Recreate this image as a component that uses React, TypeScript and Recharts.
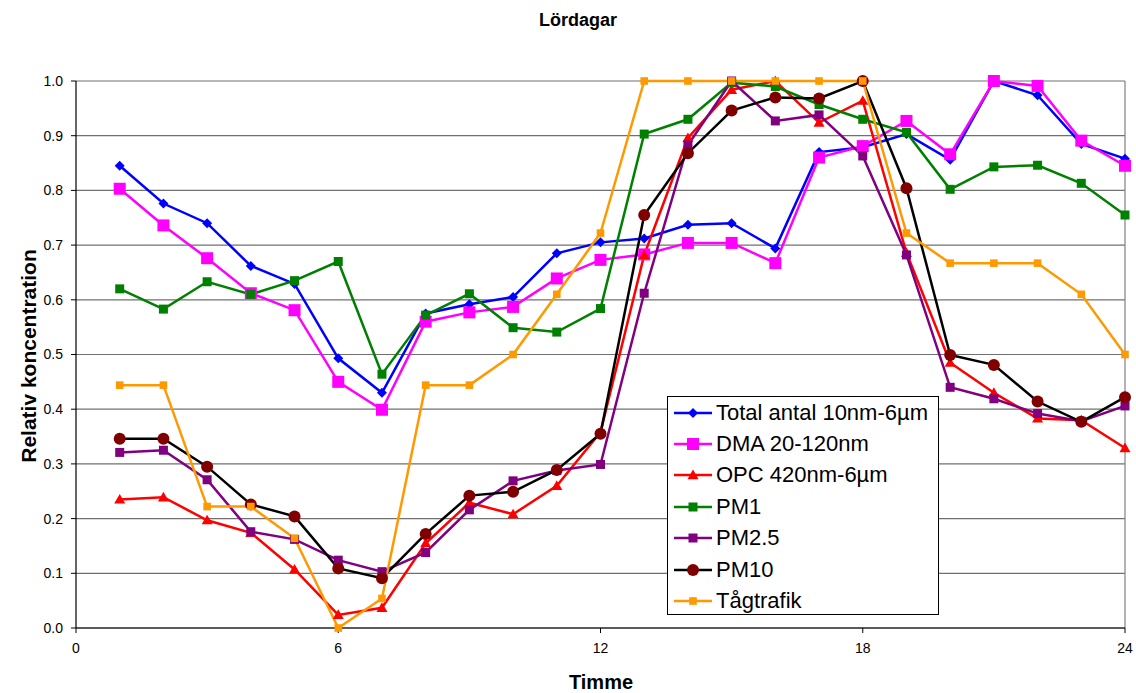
import React from "react";
import { LineChart, Line, XAxis, YAxis, CartesianGrid, ReferenceLine } from "recharts";

// Hours of the day (Saturday profile)
const hours = [1, 2, 3, 4, 5, 6, 7, 8, 9, 10, 11, 12, 13, 14, 15, 16, 17, 18, 19, 20, 21, 22, 23, 24];

const totalAntal = [0.845, 0.776, 0.74, 0.662, 0.629, 0.493, 0.43, 0.575, 0.592, 0.605, 0.685, 0.705, 0.712, 0.737, 0.74, 0.694, 0.87, 0.879, 0.903, 0.856, 1.0, 0.974, 0.885, 0.858];
const dma = [0.803, 0.736, 0.676, 0.612, 0.581, 0.45, 0.399, 0.56, 0.577, 0.587, 0.639, 0.673, 0.683, 0.704, 0.704, 0.667, 0.86, 0.881, 0.927, 0.866, 1.0, 0.991, 0.891, 0.845];
const opc = [0.235, 0.239, 0.197, 0.174, 0.107, 0.024, 0.037, 0.155, 0.229, 0.208, 0.26, 0.358, 0.682, 0.896, 0.984, 1.0, 0.924, 0.964, 0.686, 0.485, 0.43, 0.383, 0.38, 0.329];
const pm1 = [0.62, 0.583, 0.633, 0.61, 0.635, 0.67, 0.464, 0.572, 0.611, 0.549, 0.541, 0.584, 0.903, 0.93, 0.997, 0.99, 0.957, 0.93, 0.906, 0.802, 0.843, 0.846, 0.813, 0.755];
const pm25 = [0.321, 0.325, 0.271, 0.176, 0.162, 0.124, 0.103, 0.138, 0.216, 0.269, 0.288, 0.299, 0.612, 0.883, 1.0, 0.927, 0.938, 0.863, 0.682, 0.44, 0.419, 0.392, 0.378, 0.406];
const pm10 = [0.346, 0.346, 0.295, 0.226, 0.204, 0.109, 0.091, 0.172, 0.242, 0.249, 0.289, 0.355, 0.755, 0.868, 0.946, 0.97, 0.968, 1.0, 0.804, 0.499, 0.481, 0.414, 0.377, 0.422];
const tagtrafik = [0.444, 0.444, 0.222, 0.222, 0.164, 0.0, 0.054, 0.444, 0.444, 0.5, 0.61, 0.722, 1.0, 1.0, 1.0, 1.0, 1.0, 1.0, 0.722, 0.667, 0.667, 0.667, 0.61, 0.5];

const yTicks = [0, 0.1, 0.2, 0.3, 0.4, 0.5, 0.6, 0.7, 0.8, 0.9, 1.0];
const xTicks = [0, 6, 12, 18, 24];

const FONT = '"Liberation Sans", Arial, sans-serif';

type Shape = "diamond" | "square" | "triangle" | "circle";

interface SeriesDef {
  key: string;
  name: string;
  values: number[];
  stroke: string;
  fill: string;
  shape: Shape;
  size: number;
}

const series: SeriesDef[] = [
  { key: "total", name: "Total antal 10nm-6µm", values: totalAntal, stroke: "#0000FF", fill: "#0000FF", shape: "diamond", size: 5 },
  { key: "dma", name: "DMA 20-120nm", values: dma, stroke: "#FF00FF", fill: "#FF00FF", shape: "square", size: 6 },
  { key: "opc", name: "OPC 420nm-6µm", values: opc, stroke: "#FF0000", fill: "#FF0000", shape: "triangle", size: 5.5 },
  { key: "pm1", name: "PM1", values: pm1, stroke: "#008000", fill: "#008000", shape: "square", size: 4.5 },
  { key: "pm25", name: "PM2.5", values: pm25, stroke: "#800080", fill: "#800080", shape: "square", size: 4.5 },
  { key: "pm10", name: "PM10", values: pm10, stroke: "#000000", fill: "#800000", shape: "circle", size: 6 },
  { key: "tag", name: "Tågtrafik", values: tagtrafik, stroke: "#FF9900", fill: "#FF9900", shape: "square", size: 3.8 },
];

const data = hours.map((h, i) => {
  const row: Record<string, number> = { hour: h };
  series.forEach((s) => {
    row[s.key] = s.values[i];
  });
  return row;
});

function Marker({ cx, cy, shape, size, fill }: { cx: number; cy: number; shape: Shape; size: number; fill: string }) {
  if (shape === "circle") return <circle cx={cx} cy={cy} r={size} fill={fill} />;
  if (shape === "square")
    return <rect x={cx - size} y={cy - size} width={size * 2} height={size * 2} fill={fill} />;
  if (shape === "diamond")
    return (
      <path d={`M${cx},${cy - size}L${cx + size},${cy}L${cx},${cy + size}L${cx - size},${cy}Z`} fill={fill} />
    );
  return (
    <path
      d={`M${cx},${cy - size}L${cx + size},${cy + size * 0.75}L${cx - size},${cy + size * 0.75}Z`}
      fill={fill}
    />
  );
}

function LegendBox() {
  return (
    <div
      style={{
        position: "absolute",
        left: 667,
        top: 396,
        width: 272,
        height: 219,
        border: "1px solid #000",
        background: "#fff",
        fontFamily: FONT,
        fontSize: 22,
        color: "#000",
        boxSizing: "border-box",
      }}
    >
      {series.map((s) => (
        <div key={s.key} style={{ display: "flex", alignItems: "center", height: 31.4, paddingLeft: 5 }}>
          <svg width={40} height={20} style={{ marginRight: 3 }}>
            <line x1={1} y1={10} x2={39} y2={10} stroke={s.stroke} strokeWidth={2.5} />
            <Marker cx={20} cy={10} shape={s.shape} size={s.size} fill={s.fill} />
          </svg>
          <span style={{ whiteSpace: "nowrap" }}>{s.name}</span>
        </div>
      ))}
    </div>
  );
}

export default function App() {
  return (
    <div style={{ position: "absolute", left: 0, top: 0, width: 1136, height: 693, background: "#fff", overflow: "hidden" }}>
      <div
        style={{
          position: "absolute",
          left: 0,
          width: 1136,
          top: 10,
          textAlign: "center",
          paddingLeft: 20,
          boxSizing: "border-box",
          fontFamily: FONT,
          fontWeight: "bold",
          fontSize: 18,
        }}
      >
        Lördagar
      </div>
      <LineChart
        width={1136}
        height={693}
        data={data}
        margin={{ top: 81, right: 11, left: 0, bottom: 0 }}
      >
        <CartesianGrid vertical={false} stroke="#707070" strokeWidth={1.2} />
        <ReferenceLine x={24} stroke="#808080" strokeWidth={1.2} />
        <XAxis
          dataKey="hour"
          type="number"
          domain={[0, 24]}
          ticks={xTicks}
          height={65}
          tickSize={5}
          tickMargin={10}
          axisLine={{ stroke: "#000", strokeWidth: 1.2 }}
          tickLine={{ stroke: "#000" }}
          tick={{ fontSize: 14, fill: "#000", fontFamily: FONT }}
        />
        <YAxis
          type="number"
          domain={[0, 1]}
          ticks={yTicks}
          width={76}
          tickSize={5}
          tickMargin={8}
          tickFormatter={(v: number) => v.toFixed(1)}
          axisLine={{ stroke: "#000", strokeWidth: 1.2 }}
          tickLine={{ stroke: "#000" }}
          tick={{ fontSize: 14, fill: "#000", fontFamily: FONT }}
        />
        {series.map((s) => (
          <Line
            key={s.key}
            dataKey={s.key}
            type="linear"
            stroke={s.stroke}
            strokeWidth={2.5}
            isAnimationActive={false}
            activeDot={false}
            dot={(p: any) => (
              <Marker key={`${s.key}-${p.index}`} cx={p.cx} cy={p.cy} shape={s.shape} size={s.size} fill={s.fill} />
            )}
          />
        ))}
      </LineChart>
      <div
        style={{
          position: "absolute",
          left: 28,
          top: 356,
          transform: "translate(-50%, -50%) rotate(-90deg)",
          whiteSpace: "nowrap",
          fontFamily: FONT,
          fontWeight: "bold",
          fontSize: 21,
          lineHeight: "21px",
        }}
      >
        Relativ koncentration
      </div>
      <div
        style={{
          position: "absolute",
          left: 601,
          top: 672,
          transform: "translateX(-50%)",
          whiteSpace: "nowrap",
          fontFamily: FONT,
          fontWeight: "bold",
          fontSize: 20,
          lineHeight: "20px",
        }}
      >
        Timme
      </div>
      <LegendBox />
    </div>
  );
}
